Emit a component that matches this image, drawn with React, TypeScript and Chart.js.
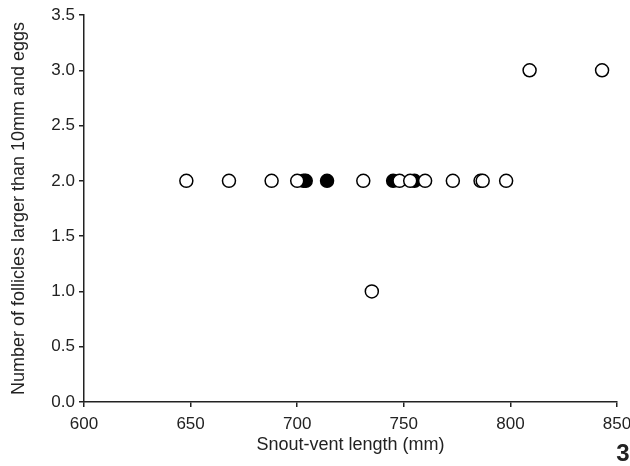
import React, { useEffect, useRef } from "react";
import { Chart, registerables } from "chart.js";

Chart.register(...registerables);

// Open circles (snout-vent length mm, number of follicles/eggs)
const openX = [648, 668, 688, 700, 731, 748, 753, 760, 773, 786, 787, 798, 735, 809, 843];
const openY = [2, 2, 2, 2, 2, 2, 2, 2, 2, 2, 2, 2, 1, 3, 3];
// Filled circles
const filledX = [703, 704, 714, 745, 755];
const filledY = [2, 2, 2, 2, 2];

const xTicks = [600, 650, 700, 750, 800, 850];
const yTicks = [0, 0.5, 1, 1.5, 2, 2.5, 3, 3.5];

const FONT = "'Liberation Sans', Arial, sans-serif";

const panelLabel = {
  id: "panelLabel",
  afterDraw(chart: any) {
    const ctx = chart.ctx;
    ctx.save();
    ctx.font = `bold 24px ${FONT}`;
    ctx.fillStyle = "#222";
    ctx.textAlign = "center";
    ctx.textBaseline = "middle";
    ctx.fillText("3", 623, 454);
    ctx.restore();
  },
};

export default function App() {
  const ref = useRef<HTMLCanvasElement | null>(null);
  useEffect(() => {
    document.body.style.margin = "0";
    const ctx = ref.current!;
    const chart = new Chart(ctx, {
      type: "scatter",
      data: {
        datasets: [
          {
            label: "open",
            data: openX.map((x, i) => ({ x, y: openY[i] })),
            backgroundColor: "#fff",
            borderColor: "#000",
            borderWidth: 1.5,
            pointRadius: 6.5,
          },
          {
            label: "filled",
            data: filledX.map((x, i) => ({ x, y: filledY[i] })),
            backgroundColor: "#000",
            borderColor: "#000",
            borderWidth: 1.5,
            pointRadius: 6.5,
          },
        ],
      },
      options: {
        animation: false,
        responsive: false,
        layout: { padding: { top: 15, right: 0, left: 0, bottom: 0 } },
        plugins: { legend: { display: false }, tooltip: { enabled: false } },
        scales: {
          x: {
            type: "linear",
            min: 600,
            max: 850,
            afterBuildTicks: (s: any) => {
              s.ticks = xTicks.map((v) => ({ value: v }));
            },
            afterFit: (s: any) => {
              s.height = 64;
              s.paddingRight = 13;
              s.paddingLeft = 0;
            },
            border: { color: "#222", width: 1.5 },
            grid: { drawOnChartArea: false, drawTicks: true, tickLength: 5, color: "#222", lineWidth: 1.5 },
            ticks: { color: "#222", font: { family: FONT, size: 17 }, padding: 7, maxRotation: 0 },
            title: {
              display: true,
              text: "Snout-vent length (mm)",
              color: "#222",
              font: { family: FONT, size: 18 },
              padding: { top: 0, bottom: 10 },
            },
          },
          y: {
            type: "linear",
            min: 0,
            max: 3.5,
            afterBuildTicks: (s: any) => {
              s.ticks = yTicks.map((v) => ({ value: v }));
            },
            afterFit: (s: any) => {
              s.width = 84;
              s.paddingTop = 0;
              s.paddingBottom = 0;
            },
            border: { color: "#222", width: 1.5 },
            grid: { drawOnChartArea: false, drawTicks: true, tickLength: 5, color: "#222", lineWidth: 1.5 },
            ticks: {
              color: "#222",
              font: { family: FONT, size: 17 },
              padding: 4,
              callback: (v: any) => Number(v).toFixed(1),
            },
            title: {
              display: true,
              text: "Number of follicles larger than 10mm and eggs",
              color: "#222",
              font: { family: FONT, size: 18 },
              padding: { top: 8, bottom: 0 },
            },
          },
        },
      },
      plugins: [panelLabel],
    } as any);
    return () => chart.destroy();
  }, []);
  return (
    <div style={{ width: 630, height: 466 }}>
      <canvas ref={ref} width={630} height={466} style={{ display: "block" }} />
    </div>
  );
}
